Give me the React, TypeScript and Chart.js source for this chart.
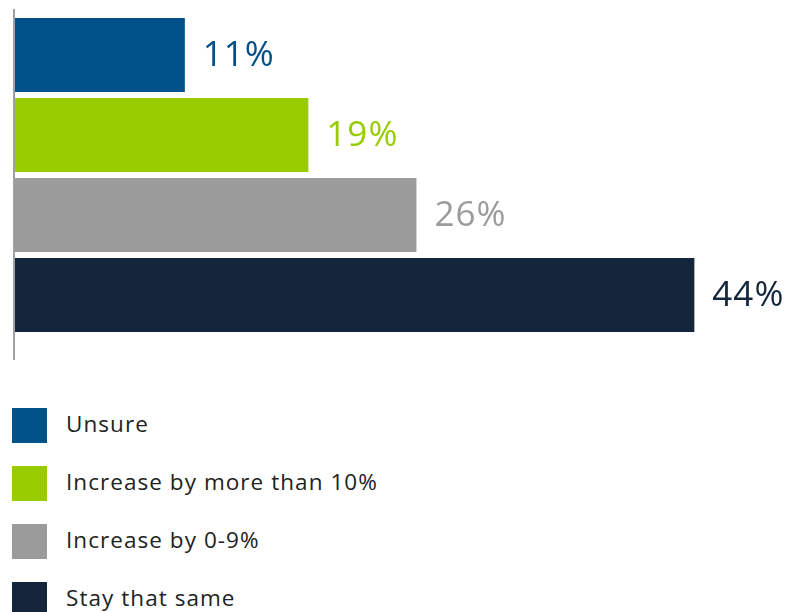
import React, { useEffect, useRef } from "react";
import { Chart, registerables } from "chart.js";

Chart.register(...registerables);

const categories = ["Unsure", "Increase by more than 10%", "Increase by 0-9%", "Stay that same"];
const values = [11, 19, 26, 44];
const colors = ["#00508a", "#99cc00", "#9b9b9b", "#13263b"];
const xMax = 50;

const valueLabels = {
  id: "valueLabels",
  afterDatasetsDraw(chart: any) {
    const ctx = chart.ctx;
    const meta = chart.getDatasetMeta(0);
    ctx.save();
    ctx.font = "400 35px 'Open Sans', sans-serif";
    (ctx as any).letterSpacing = "1px";
    ctx.textBaseline = "middle";
    ctx.textAlign = "left";
    meta.data.forEach((bar: any, i: number) => {
      ctx.fillStyle = colors[i];
      ctx.fillText(values[i] + "%", bar.x + 18, bar.y + 1);
    });
    ctx.restore();
  },
};

const axisLine = {
  id: "axisLine",
  afterDraw(chart: any) {
    const { ctx, chartArea } = chart;
    ctx.save();
    ctx.strokeStyle = "#a0a0a0";
    ctx.lineWidth = 2;
    ctx.beginPath();
    ctx.moveTo(chartArea.left - 1, chartArea.top - 6);
    ctx.lineTo(chartArea.left - 1, chartArea.bottom + 25);
    ctx.stroke();
    ctx.restore();
  },
};

export default function App() {
  const ref = useRef<HTMLCanvasElement>(null);
  useEffect(() => {
    if (!ref.current) return;
    const chart = new Chart(ref.current, {
      type: "bar",
      data: {
        labels: categories,
        datasets: [
          {
            data: values,
            backgroundColor: colors,
            borderWidth: 0,
            barPercentage: 0.925,
            categoryPercentage: 1,
          },
        ],
      },
      options: {
        indexAxis: "y",
        animation: false,
        responsive: false,
        maintainAspectRatio: false,
        layout: { padding: { left: 15, right: 4, top: 15, bottom: 35 } },
        scales: {
          x: { display: false, min: 0, max: xMax },
          y: { display: false },
        },
        plugins: {
          legend: { display: false },
          tooltip: { enabled: false },
        },
      },
      plugins: [valueLabels, axisLine],
    });
    return () => chart.destroy();
  }, []);

  return (
    <div style={{ position: "absolute", left: 0, top: 0, width: 791, height: 612, background: "#fff", overflow: "hidden" }}>
      <canvas ref={ref} width={791} height={370} style={{ position: "absolute", left: 0, top: 0 }} />
      <div style={{ position: "absolute", left: 12, top: 408 }}>
        {categories.map((c, i) => (
          <div key={c} style={{ display: "flex", alignItems: "center", height: 35, marginBottom: 23 }}>
            <div style={{ width: 35, height: 35, background: colors[i] }} />
            <span
              style={{
                marginLeft: 19,
                position: "relative",
                top: -2,
                fontFamily: "'Open Sans', sans-serif",
                fontSize: 22.5,
                letterSpacing: "1.05px",
                lineHeight: "35px",
                color: "#222",
                whiteSpace: "nowrap",
              }}
            >
              {c}
            </span>
          </div>
        ))}
      </div>
    </div>
  );
}
